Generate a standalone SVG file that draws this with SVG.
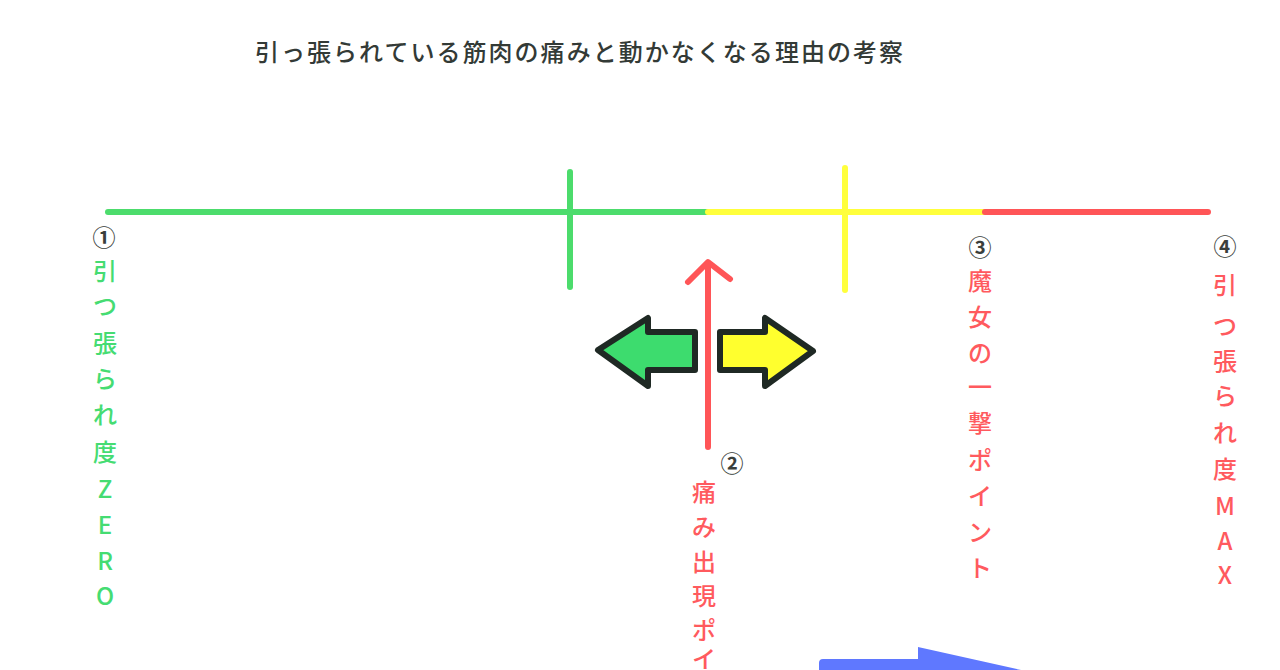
<svg xmlns="http://www.w3.org/2000/svg" width="1280" height="670" viewBox="0 0 1280 670">
<style>
.t{font-family:"Noto Sans CJK JP","Noto Sans",sans-serif;text-anchor:middle;dominant-baseline:central;font-size:24px;font-weight:500}
.g{fill:#45dc72}
.r{fill:#ff5a5e}
.n{fill:#3a3f3c;font-size:23px;font-weight:700}
.ln{stroke-width:6;stroke-linecap:round;fill:none}
.ar{stroke:#1f2924;stroke-width:6;stroke-linejoin:round}
</style>
<rect width="1280" height="670" fill="#ffffff"/>
<g id="title"><text x="255" y="61" font-family="'Noto Sans CJK JP',sans-serif" font-size="24" font-weight="500" textLength="648" lengthAdjust="spacing" fill="#333a36">引っ張られている筋肉の痛みと動かなくなる理由の考察</text></g>
<g id="scale">
<line class="ln" x1="108" y1="212" x2="708" y2="212" stroke="#4cdc6c"/>
<line class="ln" x1="708" y1="212" x2="985" y2="212" stroke="#ffff3c"/>
<line class="ln" x1="985" y1="212" x2="1208" y2="212" stroke="#ff5557"/>
<line class="ln" x1="570" y1="172" x2="570" y2="287" stroke="#4cdc6c"/>
<line class="ln" x1="845" y1="168" x2="845" y2="290" stroke="#ffff3c"/>
</g>
<g id="connectors">
<path class="ln" d="M708 447 V264 M688 282 L708 262 L730 279" stroke="#ff5557" stroke-linejoin="round"/>
</g>
<g id="arrow-left"><polygon class="ar" fill="#3ddc6e" points="598,350 648,318 648,332 695,332 695,370 648,370 648,386"/></g>
<g id="arrow-right"><polygon class="ar" fill="#ffff2e" points="813,351 765,318 765,332 720,332 720,370 765,370 765,386"/></g>
<g id="label1">
<text class="t n" x="104" y="236">①</text>
<text class="t g" x="105" y="269">引</text>
<text class="t g" x="105" y="304">つ</text>
<text class="t g" x="105" y="341">張</text>
<text class="t g" x="105" y="377">ら</text>
<text class="t g" x="105" y="413">れ</text>
<text class="t g" x="105" y="450">度</text>
<text class="t g" x="105" y="487">Z</text>
<text class="t g" x="105" y="523">E</text>
<text class="t g" x="105" y="559">R</text>
<text class="t g" x="105" y="594">O</text>
</g>
<g id="label2">
<text class="t n" x="732" y="462">②</text>
<text class="t r" x="704" y="490">痛</text>
<text class="t r" x="704" y="525">み</text>
<text class="t r" x="704" y="560">出</text>
<text class="t r" x="704" y="594">現</text>
<text class="t r" x="704" y="628">ポ</text>
<text class="t r" x="704" y="657">イ</text>
</g>
<g id="label3">
<text class="t n" x="980" y="246">③</text>
<text class="t r" x="980" y="279">魔</text>
<text class="t r" x="980" y="315">女</text>
<text class="t r" x="980" y="351">の</text>
<text class="t r" x="980" y="385">一</text>
<text class="t r" x="980" y="421">撃</text>
<text class="t r" x="980" y="458">ポ</text>
<text class="t r" x="980" y="494">イ</text>
<text class="t r" x="980" y="530">ン</text>
<text class="t r" x="980" y="566">ト</text>
</g>
<g id="label4">
<text class="t n" x="1225" y="245">④</text>
<text class="t r" x="1225" y="283">引</text>
<text class="t r" x="1225" y="324">つ</text>
<text class="t r" x="1225" y="359">張</text>
<text class="t r" x="1225" y="394">ら</text>
<text class="t r" x="1225" y="431">れ</text>
<text class="t r" x="1225" y="467">度</text>
<text class="t r" x="1225" y="504">M</text>
<text class="t r" x="1225" y="539">A</text>
<text class="t r" x="1225" y="573">X</text>
</g>
<g id="blue-arrow"><path d="M823 659 H918 V647 L1030 672 V690 H819 V663 Q819 659 823 659 Z" fill="#5f78ff"/></g>
</svg>
